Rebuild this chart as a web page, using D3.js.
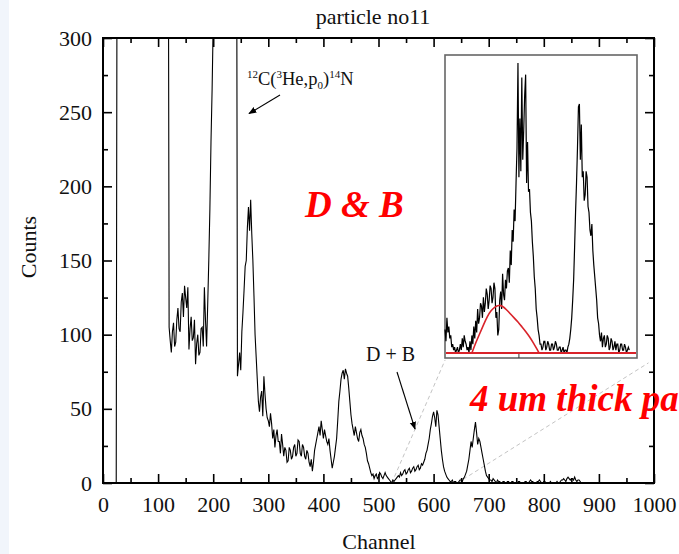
<!DOCTYPE html>
<html lang="en">
<head>
<meta charset="utf-8">
<title>particle no11</title>
<script src="https://cdnjs.cloudflare.com/ajax/libs/d3/7.8.5/d3.min.js"></script>
<style>
  body { margin: 0; background: #fff; }
  svg text { font-family: "Liberation Serif", "DejaVu Serif", serif; }
</style>
</head>
<body>
<script>

// ---- data ----
var channelStep = 2;   // main spectrum: one value every 2 channels, from channel 0
var counts = [
  // 0 - 24
  0,0,0,0,0,0,0,0,0,0,0,0,0,
  // 26 - 118 (off scale)
  500,500,500,500,500,500,500,500,500,500,500,500,500,500,500,500,500,500,500,500,
  500,500,500,500,500,500,500,500,500,500,500,500,500,500,500,500,500,500,500,500,
  500,500,500,500,500,500,500,
  // 120 - 200
  105,96,88,102,108,92,95,110,118,104,102,122,128,112,133,125,118,132,90,104,
  112,96,98,110,80,94,100,86,88,104,105,92,132,110,92,120,150,185,230,265,310,
  // 202 - 242 (off scale)
  500,500,500,500,500,500,500,500,500,500,500,500,500,500,500,500,500,500,500,500,500,
  // 244 - 342
  72,80,88,76,102,115,130,146,150,172,186,170,191,168,150,126,100,85,70,55,
  48,58,62,45,72,60,50,44,42,38,47,40,30,36,24,32,36,28,28,20,
  33,26,18,24,22,14,15,24,22,16,
  // 344 - 442
  18,24,26,18,20,29,28,20,18,26,24,18,16,22,20,14,11,16,8,14,
  22,26,30,34,38,32,42,36,30,36,32,28,26,30,22,16,10,14,18,24,
  30,42,55,62,70,74,76,70,77,74,
  // 444 - 542
  72,64,55,46,40,36,32,38,34,30,28,34,36,32,30,26,24,20,15,13,
  10,7,5,6,3,5,6,3,4,7,6,4,3,5,7,5,4,3,2,1,
  0,2,1,2,3,4,5,4,7,5,
  // 544 - 642
  6,8,9,6,7,9,10,7,8,10,11,8,9,11,12,9,10,13,12,14,
  16,20,22,26,30,36,40,45,48,44,38,49,46,38,30,22,16,11,8,6,
  4,3,2,1,1,2,0,1,1,0,
  // 644 - 722
  0,1,2,2,1,3,4,6,8,12,16,22,28,24,30,36,41,34,26,30,
  28,24,20,16,12,8,5,4,3,2,2,1,3,2,1,0,2,1,1,0,
  // 724 - 872
  0,1,1,0,0,1,1,0,0,1,1,0,0,0,0,1,1,0,0,0,
  0,1,1,0,0,1,2,1,1,0,0,0,1,1,2,1,0,0,1,1,
  0,0,0,0,1,0,0,0,0,0,1,0,0,1,2,2,3,2,1,3,
  4,3,2,3,3,2,4,2,1,2,2,1,0,0,0
];

// inset spectrum, one value every half inset unit (0..96)
var insetStep = 0.5;
var insetCounts = [
  8,4,12,7,9,5,6,2,3,1,2,0,1,2,0,1,3,1,5,2,
  6,4,3,1,2,0,4,1,6,3,9,5,11,7,15,10,12,17,16,12,
  19,14,17,22,20,15,18,23,22,17,19,24,22,12,14,6,8,18,21,15,
  27,20,18,25,22,28,29,24,35,30,42,38,49,45,58,70,99,60,80,62,
  94,66,76,88,95,58,72,55,56,48,45,38,33,26,22,15,12,8,6,3,
  3,1,2,4,4,1,2,4,3,1,1,3,3,1,2,4,3,1,1,2,
  2,0,1,2,0,1,1,0,2,3,5,8,12,18,25,36,48,58,70,84,
  85,66,78,60,62,52,54,62,60,50,48,42,40,44,35,30,26,22,18,12,
  10,6,4,7,2,5,6,2,3,6,5,1,2,5,4,1,2,4,1,3,
  3,0,1,3,3,1,1,3,2,0,1,2,1
];
// red fitted hump in the inset
var fitU = [14,16,18,20,22,24,26,28,30,32,34,36,38,40,42,44,46,48,49];
var fitV = [0,3.5,6.5,9.5,12.5,14.5,15.8,16.4,16,14.8,13.4,12,10.6,9,7.4,5.6,3.5,1.2,0];

var xTicks = [0,100,200,300,400,500,600,700,800,900,1000];
var yTicks = [0,50,100,150,200,250,300];

// zoom guides: [channel, counts] start and end
var zoomLines = [
  [[524, 0], [621, 83]],
  [[643, 0], [990, 81]]
];

var w = 679, h = 554;

var svg = d3.select("body").append("svg")
  .attr("width", w).attr("height", h);

// faint strip on the left edge
svg.append("rect").attr("x", 0).attr("y", 0).attr("width", 9).attr("height", h)
  .attr("fill", "#f1f5fb");

var x = d3.scaleLinear().domain([0, 1000]).range([103, 654]);
var y = d3.scaleLinear().domain([0, 300]).range([483, 38]);

svg.append("clipPath").attr("id", "plotclip")
  .append("rect")
  .attr("x", x(0)).attr("y", y(300))
  .attr("width", x(1000) - x(0)).attr("height", y(0) - y(300));

// dashed zoom guides
svg.selectAll("line.zoom")
  .data(zoomLines)
  .enter().append("line")
  .attr("class", "zoom")
  .attr("x1", function(d) { return x(d[0][0]); })
  .attr("y1", function(d) { return y(d[0][1]); })
  .attr("x2", function(d) { return x(d[1][0]); })
  .attr("y2", function(d) { return y(d[1][1]); })
  .attr("stroke", "#c4c4c4")
  .attr("stroke-width", 1)
  .attr("stroke-dasharray", "4,3");

// main spectrum
var line = d3.line()
  .x(function(d, i) { return x(i * channelStep); })
  .y(function(d) { return y(d); });

svg.append("path")
  .datum(counts)
  .attr("clip-path", "url(#plotclip)")
  .attr("fill", "none")
  .attr("stroke", "#000")
  .attr("stroke-width", 1.1)
  .attr("d", line);

// axes (ticks inward on all four sides)
function minor(vals) {
  var out = [];
  for (var i = 0; i < vals.length - 1; i++) out.push((vals[i] + vals[i + 1]) / 2);
  return out;
}

svg.append("g").attr("transform", "translate(0," + y(0) + ")")
  .call(d3.axisBottom(x).tickValues(xTicks).tickSizeInner(-9).tickSizeOuter(0)
    .tickPadding(13).tickFormat(d3.format("d")));
svg.append("g").attr("transform", "translate(0," + y(0) + ")")
  .call(d3.axisBottom(x).tickValues(minor(xTicks)).tickSizeInner(-5).tickSizeOuter(0).tickFormat(""));
svg.append("g").attr("transform", "translate(0," + y(300) + ")")
  .call(d3.axisTop(x).tickValues(xTicks).tickSizeInner(-9).tickSizeOuter(0).tickFormat(""));
svg.append("g").attr("transform", "translate(0," + y(300) + ")")
  .call(d3.axisTop(x).tickValues(minor(xTicks)).tickSizeInner(-5).tickSizeOuter(0).tickFormat(""));

svg.append("g").attr("transform", "translate(" + x(0) + ",0)")
  .call(d3.axisLeft(y).tickValues(yTicks).tickSizeInner(-9).tickSizeOuter(0).tickPadding(11));
svg.append("g").attr("transform", "translate(" + x(0) + ",0)")
  .call(d3.axisLeft(y).tickValues(minor(yTicks)).tickSizeInner(-5).tickSizeOuter(0).tickFormat(""));
svg.append("g").attr("transform", "translate(" + x(1000) + ",0)")
  .call(d3.axisRight(y).tickValues(yTicks).tickSizeInner(-9).tickSizeOuter(0).tickFormat(""));
svg.append("g").attr("transform", "translate(" + x(1000) + ",0)")
  .call(d3.axisRight(y).tickValues(minor(yTicks)).tickSizeInner(-5).tickSizeOuter(0).tickFormat(""));

svg.selectAll(".domain").remove();
svg.selectAll(".tick line").attr("stroke", "#000").attr("stroke-width", 1.6);
svg.selectAll(".tick text")
  .style("font-family", "'Liberation Serif', serif")
  .style("font-size", "22px")
  .attr("fill", "#111");

// frame
svg.append("rect")
  .attr("x", x(0)).attr("y", y(300))
  .attr("width", x(1000) - x(0)).attr("height", y(0) - y(300))
  .attr("fill", "none").attr("stroke", "#000").attr("stroke-width", 2);

// titles
svg.append("text").attr("x", 373).attr("y", 24)
  .attr("text-anchor", "middle").style("font-size", "22px").attr("fill", "#111")
  .text("particle no11");
svg.append("text").attr("x", 379).attr("y", 549)
  .attr("text-anchor", "middle").style("font-size", "22px").attr("fill", "#111")
  .text("Channel");
svg.append("text")
  .attr("transform", "translate(36,247) rotate(-90)")
  .attr("text-anchor", "middle").style("font-size", "22px").attr("fill", "#111")
  .text("Counts");

// arrow marker
svg.append("defs").append("marker")
  .attr("id", "arrow").attr("viewBox", "0 0 10 10")
  .attr("refX", 9).attr("refY", 5)
  .attr("markerWidth", 8).attr("markerHeight", 8)
  .attr("markerUnits", "userSpaceOnUse")
  .attr("orient", "auto")
  .append("path").attr("d", "M0,1 L10,5 L0,9 z").attr("fill", "#000");

// reaction label
var rl = svg.append("text").attr("x", 247).attr("y", 85)
  .style("font-size", "18.5px").attr("fill", "#111");
rl.append("tspan").attr("dy", -7).style("font-size", "11px").text("12");
rl.append("tspan").attr("dy", 7).text("C(");
rl.append("tspan").attr("dy", -7).style("font-size", "11px").text("3");
rl.append("tspan").attr("dy", 7).text("He,p");
rl.append("tspan").attr("dy", 4).style("font-size", "11px").text("0");
rl.append("tspan").attr("dy", -4).text(")");
rl.append("tspan").attr("dy", -7).style("font-size", "11px").text("14");
rl.append("tspan").attr("dy", 7).text("N");

svg.append("line")
  .attr("x1", 280).attr("y1", 95).attr("x2", 249).attr("y2", 113.5)
  .attr("stroke", "#000").attr("stroke-width", 1.1)
  .attr("marker-end", "url(#arrow)");

// D + B label
svg.append("text").attr("x", 366).attr("y", 361)
  .style("font-size", "20px").attr("fill", "#111").text("D + B");
svg.append("line")
  .attr("x1", 397).attr("y1", 372).attr("x2", 415).attr("y2", 429)
  .attr("stroke", "#000").attr("stroke-width", 1.1)
  .attr("marker-end", "url(#arrow)");

// inset
var ix = d3.scaleLinear().domain([0, 100]).range([445, 637]);
var iy = d3.scaleLinear().domain([0, 100]).range([353, 60]);

svg.append("rect")
  .attr("x", 445).attr("y", 55).attr("width", 192).attr("height", 303)
  .attr("fill", "#fff").attr("stroke", "#666").attr("stroke-width", 1.6);

svg.append("line")
  .attr("x1", ix(38.5)).attr("x2", ix(38.5)).attr("y1", 358).attr("y2", 354)
  .attr("stroke", "#333").attr("stroke-width", 1);

svg.append("path")
  .datum(insetCounts)
  .attr("fill", "none").attr("stroke", "#000").attr("stroke-width", 1.2)
  .attr("d", d3.line()
    .x(function(d, i) { return ix(i * insetStep); })
    .y(function(d) { return iy(d); }));

svg.append("line")
  .attr("x1", ix(0) + 1).attr("x2", ix(100) - 1).attr("y1", iy(0)).attr("y2", iy(0))
  .attr("stroke", "#d9232a").attr("stroke-width", 2);

svg.append("path")
  .datum(d3.zip(fitU, fitV))
  .attr("fill", "none").attr("stroke", "#d9232a").attr("stroke-width", 1.6)
  .attr("d", d3.line().curve(d3.curveBasis)
    .x(function(d) { return ix(d[0]); })
    .y(function(d) { return iy(d[1]); }));

// red notes
svg.append("text").attr("x", 305).attr("y", 217)
  .style("font-size", "37px").style("font-weight", "bold").style("font-style", "italic")
  .attr("fill", "#ff0000").text("D & B");
svg.append("text").attr("x", 470).attr("y", 411)
  .style("font-size", "37px").style("font-weight", "bold").style("font-style", "italic")
  .attr("fill", "#ff0000").text("4 um thick pa");

</script>
</body>
</html>
